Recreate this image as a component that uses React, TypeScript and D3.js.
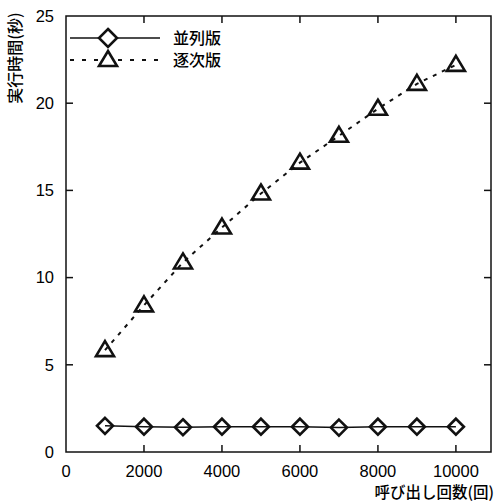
import React, { useEffect, useRef } from 'react'
import * as d3 from 'd3'

// calls (x) and run time in seconds for the two versions
const calls = [1000, 2000, 3000, 4000, 5000, 6000, 7000, 8000, 9000, 10000]
const parallelTimes = [1.5, 1.45, 1.42, 1.45, 1.45, 1.45, 1.4, 1.45, 1.45, 1.45]
const sequentialTimes = [5.84, 8.41, 10.87, 12.87, 14.82, 16.59, 18.13, 19.68, 21.11, 22.2]
const xTicks = [0, 2000, 4000, 6000, 8000, 10000]
const yTicks = [0, 5, 10, 15, 20, 25]
const seriesLabels = ['並列版', '逐次版']
const xLabel = '呼び出し回数(回)'
const yLabel = '実行時間(秒)'

const W = 496
const H = 501
const FONT = '"Liberation Sans", Arial, "Noto Sans CJK JP", sans-serif'
const JP_FONT = '"Noto Sans CJK JP", "Liberation Sans", sans-serif'

function App() {
    const ref = useRef<SVGSVGElement>(null)

    useEffect(() => {
        const svg = d3.select(ref.current)
        svg.selectAll('*').remove()

        const margin = { top: 16, right: 5, bottom: 49, left: 66 }
        const width = W - margin.left - margin.right
        const height = H - margin.top - margin.bottom

        const x = d3.scaleLinear().domain([0, 10900]).range([0, width])
        const y = d3.scaleLinear().domain([0, 25]).range([height, 0])

        const g = svg.append('g').attr('transform', `translate(${margin.left},${margin.top})`)

        // frame
        g.append('rect')
            .attr('width', width).attr('height', height)
            .attr('fill', 'none').attr('stroke', '#111').attr('stroke-width', 1.5)

        const tickLen = 7
        // x ticks, inward on bottom and top
        xTicks.forEach(t => {
            if (t === 0) return
            g.append('line').attr('x1', x(t)).attr('x2', x(t)).attr('y1', height).attr('y2', height - tickLen)
                .attr('stroke', '#111').attr('stroke-width', 1.5)
            g.append('line').attr('x1', x(t)).attr('x2', x(t)).attr('y1', 0).attr('y2', tickLen)
                .attr('stroke', '#111').attr('stroke-width', 1.5)
        })
        g.selectAll('.xtl').data(xTicks).join('text')
            .attr('x', d => x(d)).attr('y', height + 25)
            .attr('text-anchor', 'middle')
            .style('font-family', FONT).style('font-size', '16.5px')
            .text(d => d)

        yTicks.forEach(t => {
            if (t === 0 || t === 25) return
            g.append('line').attr('x1', 0).attr('x2', tickLen).attr('y1', y(t)).attr('y2', y(t))
                .attr('stroke', '#111').attr('stroke-width', 1.5)
            g.append('line').attr('x1', width).attr('x2', width - tickLen).attr('y1', y(t)).attr('y2', y(t))
                .attr('stroke', '#111').attr('stroke-width', 1.5)
        })
        g.selectAll('.ytl').data(yTicks).join('text')
            .attr('x', -12).attr('y', d => y(d)).attr('dy', '0.35em')
            .attr('text-anchor', 'end')
            .style('font-family', FONT).style('font-size', '16.5px')
            .text(d => d)

        // axis labels
        svg.append('text')
            .attr('transform', `translate(21,58) rotate(-90)`)
            .attr('text-anchor', 'middle')
            .style('font-family', JP_FONT).style('font-size', '16px').style('font-weight', 500)
            .text(yLabel)
        svg.append('text')
            .attr('x', 494).attr('y', 498)
            .attr('text-anchor', 'end')
            .style('font-family', JP_FONT).style('font-size', '15.5px').style('font-weight', 500)
            .text(xLabel)

        const line = d3.line<number>()
            .x((_, i) => x(calls[i]))

        const diamond = (cx: number, cy: number, s = 8) =>
            `M${cx},${cy - s}L${cx + s},${cy}L${cx},${cy + s}L${cx - s},${cy}Z`
        const triangle = (cx: number, cy: number) =>
            `M${cx},${cy - 9}L${cx + 9},${cy + 6}L${cx - 9},${cy + 6}Z`

        // sequential (dashed)
        g.append('path')
            .datum(sequentialTimes)
            .attr('d', line.y(d => y(d)))
            .attr('fill', 'none').attr('stroke', '#111').attr('stroke-width', 2)
            .attr('stroke-dasharray', '4,6')
        g.selectAll('.tri').data(sequentialTimes).join('path')
            .attr('d', (d, i) => triangle(x(calls[i]), y(d)))
            .attr('fill', 'none').attr('stroke', '#111').attr('stroke-width', 2.6)
            .attr('stroke-linejoin', 'miter')

        // parallel (solid)
        g.append('path')
            .datum(parallelTimes)
            .attr('d', line.y(d => y(d)))
            .attr('fill', 'none').attr('stroke', '#111').attr('stroke-width', 1.5)
        g.selectAll('.dia').data(parallelTimes).join('path')
            .attr('d', (d, i) => diamond(x(calls[i]), y(d)))
            .attr('fill', 'none').attr('stroke', '#111').attr('stroke-width', 2.6)

        // legend
        const legend = svg.append('g')
        const rows = [38, 60]
        legend.append('line').attr('x1', 70).attr('x2', 160).attr('y1', rows[0]).attr('y2', rows[0])
            .attr('stroke', '#111').attr('stroke-width', 1.5)
        legend.append('path').attr('d', diamond(108, rows[0], 9))
            .attr('fill', 'white').attr('stroke', '#111').attr('stroke-width', 2.6)
        legend.append('line').attr('x1', 70).attr('x2', 162).attr('y1', rows[1]).attr('y2', rows[1])
            .attr('stroke', '#111').attr('stroke-width', 2).attr('stroke-dasharray', '4,8')
        legend.append('path').attr('d', triangle(108, rows[1]))
            .attr('fill', 'white').attr('stroke', '#111').attr('stroke-width', 2.6)
        legend.selectAll('.lt').data(seriesLabels).join('text')
            .attr('x', 173).attr('y', (_, i) => rows[i]).attr('dy', '0.38em')
            .style('font-family', JP_FONT).style('font-size', '16px').style('font-weight', 500)
            .text(d => d)
    }, [])

    return (
        <div style={{ position: 'absolute', left: 0, top: 0, width: W, height: H, background: 'white' }}>
            <svg ref={ref} width={W} height={H}></svg>
        </div>
    )
}

export default App
